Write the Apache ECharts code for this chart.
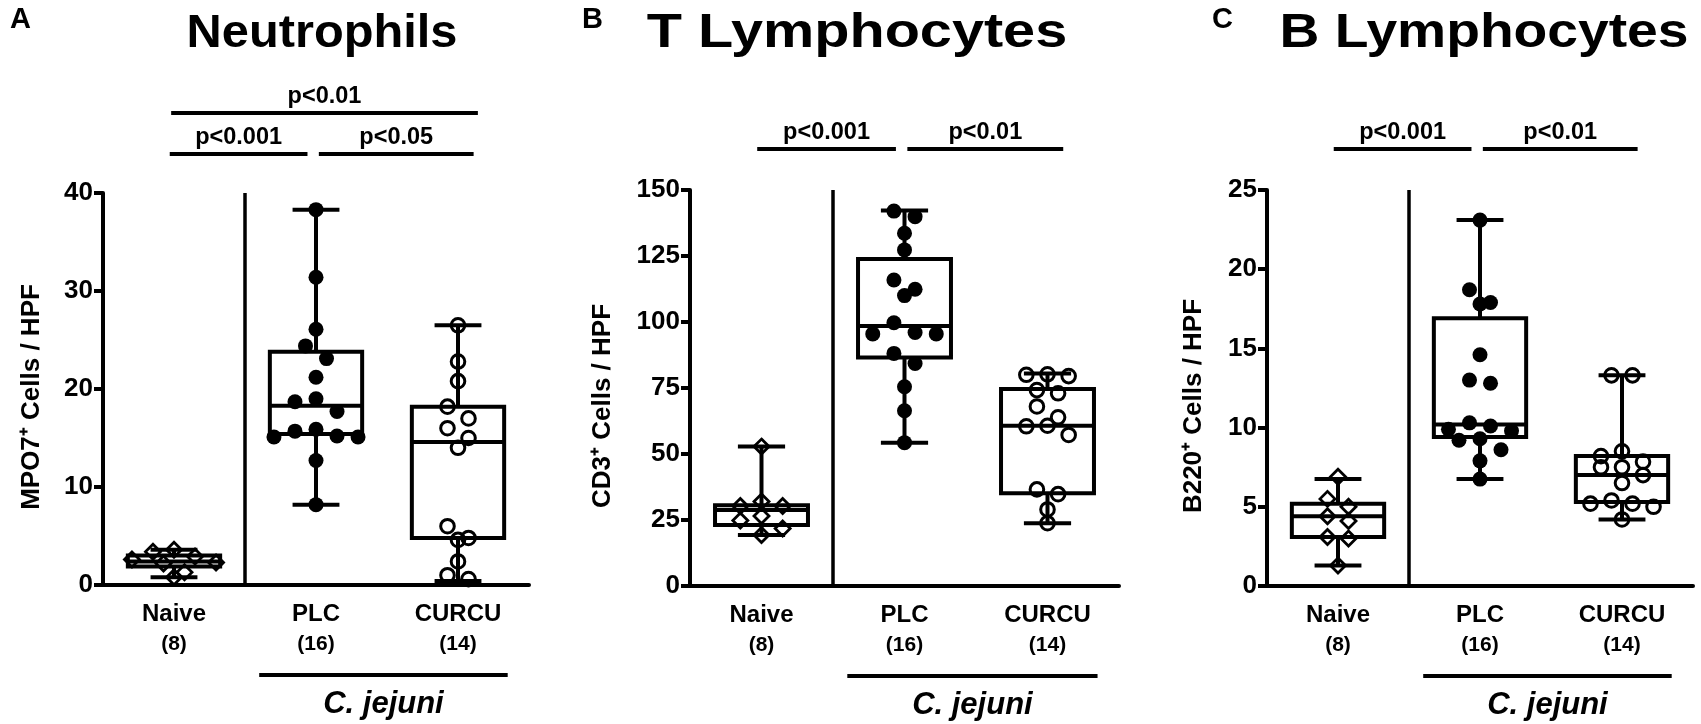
<!DOCTYPE html>
<html>
<head>
<meta charset="utf-8">
<script src="https://cdn.jsdelivr.net/npm/echarts@6/dist/echarts.min.js"></script>
<style>
    html, body { margin: 0; padding: 0; background: #fff; }
    #main { width: 1701px; height: 724px; }
</style>
</head>
<body>
<div id="main"></div>
<script type="text/javascript">
    // groups and group sizes
    var groups = ['Naive', 'PLC', 'CURCU'];
    var groupN = [8, 16, 14];

    // A - MPO7+ cells / HPF
    var neuNaive = [3.6, 3.4, 2.9, 2.6, 2.3, 2.2, 1.3, 0.8];
    var neuPLC = [38.3, 31.4, 26.1, 24.4, 23.1, 21.2, 19.0, 18.7, 17.7, 15.9, 15.7, 15.2, 15.1, 15.1, 12.7, 8.2];
    var neuCURCU = [26.5, 22.8, 20.8, 18.2, 17.0, 16.0, 15.0, 14.0, 6.0, 4.8, 4.6, 2.4, 1.0, 0.6];
    // [min, q1, median, q3, max]
    var neuBox = [[0.8, 1.9, 2.4, 3.0, 3.6], [8.2, 15.4, 18.3, 23.8, 38.3], [0.4, 4.8, 14.6, 18.2, 26.5]];
    var neuTicks = [0, 40, 10];

    // B - CD3+ cells / HPF
    var cd3Naive = [52.8, 32.0, 30.3, 30.3, 26.5, 24.8, 21.8, 19.3];
    var cd3PLC = [142.0, 139.9, 133.6, 127.3, 115.9, 112.4, 110.0, 99.7, 96.0, 95.5, 95.5, 88.1, 84.3, 75.5, 66.4, 54.3];
    var cd3CURCU = [80.2, 80.0, 79.5, 74.2, 73.0, 68.0, 63.9, 60.7, 60.5, 57.2, 36.6, 34.8, 29.0, 23.8];
    var cd3Box = [[19.3, 23.1, 28.8, 30.6, 52.8], [54.3, 86.6, 98.5, 123.9, 142.2], [23.8, 35.1, 60.7, 74.6, 80.5]];
    var cd3Ticks = [0, 150, 25];

    // C - B220+ cells / HPF
    var b220Naive = [6.9, 5.5, 5.0, 4.4, 4.1, 3.1, 3.0, 1.3];
    var b220PLC = [23.1, 18.7, 17.9, 17.8, 14.6, 13.0, 12.8, 10.3, 10.1, 9.9, 9.8, 9.3, 9.2, 8.6, 7.9, 6.75];
    var b220CURCU = [13.3, 13.3, 8.5, 8.2, 7.85, 7.5, 7.5, 7.0, 6.5, 5.4, 5.2, 5.2, 5.0, 4.2];
    var b220Box = [[1.3, 3.1, 4.4, 5.2, 6.75], [6.75, 9.4, 10.2, 16.9, 23.1], [4.2, 5.3, 7.0, 8.2, 13.3]];
    var b220Ticks = [0, 25, 5];

    // significance brackets: [label, from group, to group, level]
    var neuSig = [['p<0.001', 0, 1, 0], ['p<0.05', 1, 2, 0], ['p<0.01', 0, 2, 1]];
    var cd3Sig = [['p<0.001', 0, 1, 0], ['p<0.01', 1, 2, 0]];
    var b220Sig = [['p<0.001', 0, 1, 0], ['p<0.01', 1, 2, 0]];

    var FONT = '"Liberation Sans", Arial, Helvetica, sans-serif';
    var markerKinds = ['diamond', 'dot', 'ring'];

    var panels = [
        {letter: 'A', title: 'Neutrophils', yName: 'MPO7\u207A Cells / HPF', ticks: neuTicks, box: neuBox,
            points: [neuNaive, neuPLC, neuCURCU], sig: neuSig,
            grid: {left: 103, top: 193, width: 426, height: 392}, nameGap: 58, namePad: 16, sigGap: 39,
            titleX: 322, titleSize: 46, titleScale: 1.06, letterX: 10},
        {letter: 'B', title: 'T Lymphocytes', yName: 'CD3\u207A Cells / HPF', ticks: cd3Ticks, box: cd3Box,
            points: [cd3Naive, cd3PLC, cd3CURCU], sig: cd3Sig,
            grid: {left: 690, top: 190, width: 429, height: 396}, nameGap: 74, namePad: 36, sigGap: 41,
            titleX: 857, titleSize: 48, titleScale: 1.2, letterX: 582},
        {letter: 'C', title: 'B Lymphocytes', yName: 'B220\u207A Cells / HPF', ticks: b220Ticks, box: b220Box,
            points: [b220Naive, b220PLC, b220CURCU], sig: b220Sig,
            grid: {left: 1267, top: 190, width: 426, height: 396}, nameGap: 60, namePad: 36, sigGap: 41,
            titleX: 1484, titleSize: 48, titleScale: 1.15, letterX: 1212}
    ];

    // rows of close points are spread symmetrically, like a column scatter
    function swarmOffsets(ys, minDist) {
        var order = ys.map(function (y, i) { return i; }).sort(function (a, b) { return ys[a] - ys[b]; });
        var offs = [];
        var i = 0;
        while (i < order.length) {
            var row = [order[i]];
            var j = i + 1;
            while (j < order.length && ys[order[j]] - ys[order[i]] < minDist) {
                row.push(order[j]);
                j++;
            }
            var k = row.length;
            var slots = [];
            if (k % 2) {
                slots.push(0);
                for (var s = 1; slots.length < k; s++) { slots.push(-s); slots.push(s); }
            } else {
                for (var s2 = 0.5; slots.length < k; s2++) { slots.push(-s2); slots.push(s2); }
            }
            row.forEach(function (idx, n) { offs[idx] = slots[n]; });
            i = j;
        }
        return offs;
    }

    function marker(kind, x, y) {
        if (kind === 'diamond') {
            return {type: 'polygon', silent: true,
                shape: {points: [[x, y - 7.5], [x + 7.5, y], [x, y + 7.5], [x - 7.5, y]]},
                style: {fill: 'none', stroke: '#000', lineWidth: 2.8}};
        }
        if (kind === 'dot') {
            return {type: 'circle', silent: true, shape: {cx: x, cy: y, r: 7.5}, style: {fill: '#000'}};
        }
        return {type: 'circle', silent: true, shape: {cx: x, cy: y, r: 6.8},
            style: {fill: 'none', stroke: '#000', lineWidth: 3}};
    }

    function line(x1, y1, x2, y2, w) {
        return {type: 'line', silent: true, shape: {x1: x1, y1: y1, x2: x2, y2: y2},
            style: {stroke: '#000', lineWidth: w || 4}};
    }

    function text(str, x, y, size, italic) {
        return {type: 'text', silent: true, x: x, y: y,
            style: {text: str, fill: '#000', fontSize: size, fontWeight: 'bold', fontFamily: FONT,
                fontStyle: italic ? 'italic' : 'normal', align: 'center', verticalAlign: 'middle'}};
    }

    function renderBox(params, api) {
        var gi = api.value(0);
        var c = [1, 2, 3, 4, 5].map(function (k) { return api.coord([gi, api.value(k)]); });
        var cx = c[0][0];
        var band = api.size([1, 0])[0];
        var bw = band * 0.65, cw = band * 0.33;
        return {type: 'group', children: [
            line(cx, c[0][1], cx, c[1][1]),
            line(cx, c[3][1], cx, c[4][1]),
            line(cx - cw / 2, c[0][1], cx + cw / 2, c[0][1]),
            line(cx - cw / 2, c[4][1], cx + cw / 2, c[4][1]),
            {type: 'rect', silent: true, shape: {x: cx - bw / 2, y: c[3][1], width: bw, height: c[1][1] - c[3][1]},
                style: {fill: 'none', stroke: '#000', lineWidth: 4}},
            line(cx - bw / 2, c[2][1], cx + bw / 2, c[2][1])
        ]};
    }

    function renderPoints(panel) {
        return function (params, api) {
            var gi = api.value(0);
            var vals = panel.points[gi];
            var cx = api.coord([gi, 0])[0];
            var step = api.size([1, 0])[0] * 0.148;
            var ys = vals.map(function (v) { return api.coord([gi, v])[1]; });
            var offs = swarmOffsets(ys, 13);
            return {type: 'group', children: ys.map(function (y, i) {
                return marker(markerKinds[gi], cx + offs[i] * step, y);
            })};
        };
    }

    function renderAnno(panel) {
        return function (params, api) {
            var band = api.size([1, 0])[0];
            var x0 = api.coord([0, 0])[0];
            var bottom = api.coord([0, panel.ticks[0]])[1];
            var top = api.coord([0, panel.ticks[1]])[1];
            var xAt = function (idx) { return x0 + idx * band; };
            var kids = [line(xAt(0.5), bottom, xAt(0.5), top, 3.5)];
            panel.sig.forEach(function (s) {
                var y = top - panel.sigGap - s[3] * 41;
                var a = s[1] - 0.03 + (s[1] ? 0.05 : 0);
                var b = s[2] + (s[2] === 2 ? 0.11 : -0.06);
                if (s[3]) { a = s[1] - 0.02; b = s[2] + 0.14; }
                kids.push(line(xAt(a), y, xAt(b), y));
                kids.push(text(s[0], (xAt(a) + xAt(b)) / 2, y - 16, 23.5));
            });
            var by = bottom + 90;
            kids.push(line(xAt(0.6), by, xAt(2.35), by));
            kids.push(text('C. jejuni', (xAt(0.6) + xAt(2.35)) / 2, bottom + 119, 31, true));
            return {type: 'group', children: kids};
        };
    }

    var chart = echarts.init(document.getElementById('main'));

    var option = {
        animation: false,
        backgroundColor: '#fff',
        grid: [],
        xAxis: [],
        yAxis: [],
        series: [],
        graphic: []
    };

    panels.forEach(function (p, pi) {
        option.grid.push({left: p.grid.left, top: p.grid.top, width: p.grid.width, height: p.grid.height,
            outerBoundsMode: 'none', containLabel: false});
        option.xAxis.push({
            type: 'category', gridIndex: pi, data: groups,
            axisLine: {lineStyle: {color: '#000', width: 4}},
            axisTick: {alignWithLabel: true, length: 8, lineStyle: {color: '#000', width: 4}},
            axisLabel: {
                margin: 14, interval: 0,
                formatter: function (v, i) { return '{g|' + v + '}\n{n|(' + groupN[i] + ')}'; },
                rich: {
                    g: {fontSize: 24, fontWeight: 'bold', fontFamily: FONT, color: '#000', lineHeight: 30},
                    n: {fontSize: 21, fontWeight: 'bold', fontFamily: FONT, color: '#000', lineHeight: 30}
                }
            },
            splitLine: {show: false}
        });
        option.yAxis.push({
            type: 'value', gridIndex: pi, min: p.ticks[0], max: p.ticks[1], interval: p.ticks[2],
            name: p.yName, nameLocation: 'middle', nameGap: p.nameGap, nameRotate: 90,
            nameTextStyle: {fontSize: 26, fontWeight: 'bold', fontFamily: FONT, color: '#000',
                padding: [0, p.namePad, 0, 0]},
            axisLine: {show: true, lineStyle: {color: '#000', width: 4}},
            axisTick: {show: true, length: 9, lineStyle: {color: '#000', width: 4}},
            axisLabel: {fontSize: 26, fontWeight: 'bold', fontFamily: FONT, color: '#000', margin: 10},
            splitLine: {show: false}
        });
        option.series.push({
            type: 'custom', xAxisIndex: pi, yAxisIndex: pi, renderItem: renderBox,
            encode: {x: 0, y: [1, 2, 3, 4, 5]},
            data: p.box.map(function (b, i) { return [i].concat(b); })
        });
        option.series.push({
            type: 'custom', xAxisIndex: pi, yAxisIndex: pi, renderItem: renderPoints(p),
            encode: {x: 0, y: 1},
            data: p.points.map(function (v, i) { return [i, v[0]]; })
        });
        option.series.push({
            type: 'custom', xAxisIndex: pi, yAxisIndex: pi, renderItem: renderAnno(p), clip: false,
            encode: {x: 0, y: 1},
            data: [[0, p.ticks[0]]]
        });
        option.graphic.push({type: 'text', left: p.letterX, top: 5,
            style: {text: p.letter, fontSize: 29, fontWeight: 'bold', fontFamily: FONT, fill: '#000'}});
        option.graphic.push({type: 'text', x: p.titleX, y: 34, scaleX: p.titleScale,
            style: {text: p.title, fontSize: p.titleSize, fontWeight: 'bold', fontFamily: FONT, fill: '#000',
                align: 'center', verticalAlign: 'middle', textAlign: 'center', textVerticalAlign: 'middle'}});
    });

    chart.setOption(option);
</script>
</body>
</html>
